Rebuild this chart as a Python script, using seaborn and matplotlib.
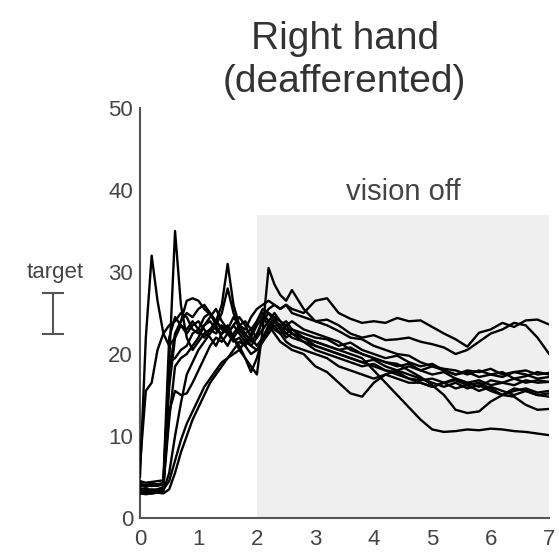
import numpy as np
import pandas as pd
import matplotlib
matplotlib.use("Agg")
import matplotlib.pyplot as plt
import seaborn as sns

# time grid (s)
t = [0.0, 0.1, 0.2, 0.3, 0.4, 0.5, 0.6, 0.7, 0.8, 0.9,
     1.0, 1.1, 1.2, 1.3, 1.4, 1.5, 1.6, 1.7, 1.8, 1.9,
     2.0, 2.1, 2.2, 2.3, 2.4, 2.5, 2.6,
     2.8, 3.0, 3.2, 3.4, 3.6, 3.8, 4.0, 4.2, 4.4, 4.6,
     4.8, 5.0, 5.2, 5.4, 5.6, 5.8, 6.0, 6.2, 6.4, 6.6, 6.8, 7.0]

trace01 = [5.0, 22.0, 32.0, 26.5, 22.5, 21.0, 22.0, 23.5, 23.0, 24.0,
           23.0, 22.0, 23.0, 24.0, 23.2, 22.5, 21.5, 22.0, 21.0, 22.5,
           24.0, 25.5, 25.0, 24.0, 23.5, 24.0, 23.0,
           22.5, 22.0, 21.8, 21.0, 21.4, 20.5, 20.0, 19.5, 19.8, 19.0,
           18.5, 18.8, 18.0, 17.5, 17.8, 17.2, 17.5, 17.8, 17.0, 17.3, 17.8, 17.5]
trace02 = [6.5, 15.5, 16.5, 20.5, 22.5, 23.5, 24.0, 25.0, 24.5, 23.0,
           22.5, 23.5, 24.0, 23.0, 22.5, 23.5, 22.0, 21.0, 19.5, 17.8,
           19.5, 22.0, 23.5, 24.5, 24.0, 23.0, 22.5,
           22.0, 21.5, 21.0, 20.5, 20.8, 20.0, 19.5, 19.0, 18.5, 18.8,
           18.0, 17.5, 17.8, 17.0, 16.5, 16.8, 16.2, 16.5, 17.0, 16.5, 16.8, 16.6]
trace03 = [4.0, 3.8, 4.0, 3.9, 4.2, 19.0, 35.0, 26.0, 22.0, 20.5,
           21.5, 22.5, 23.0, 22.5, 23.5, 22.8, 22.0, 23.0, 22.5, 21.5,
           22.5, 24.0, 25.0, 24.5, 23.0, 22.0, 22.5,
           21.5, 20.5, 20.0, 19.5, 19.0, 18.5, 18.8, 18.0, 17.5, 17.0,
           16.5, 16.0, 16.5, 15.8, 16.2, 15.5, 16.0, 15.5, 15.0, 15.5, 15.0, 15.2]
trace04 = [3.5, 3.3, 3.5, 3.4, 3.6, 16.0, 22.0, 24.0, 26.5, 26.8,
           26.5, 25.5, 24.8, 24.0, 26.0, 31.0, 26.0, 23.5, 23.0, 24.5,
           25.5, 26.0, 26.5, 26.0, 25.5, 26.0, 25.5,
           25.0, 26.5, 26.8, 25.0, 24.3, 23.8, 24.0, 23.8, 24.4, 24.0,
           24.1, 23.3, 22.5, 21.8, 20.9, 22.6, 23.0, 23.8, 23.3, 24.1, 24.2, 23.6]
trace05 = [3.0, 3.2, 3.0, 3.1, 3.3, 19.0, 19.5, 20.5, 21.0, 22.5,
           23.0, 24.5, 25.0, 23.5, 25.0, 28.0, 25.0, 23.0, 22.0, 21.0,
           22.0, 24.5, 25.5, 26.0, 25.5, 26.0, 25.0,
           24.5, 24.0, 24.2, 23.5, 22.5, 22.0, 22.3, 21.7, 21.8, 22.0,
           21.5, 21.2, 20.8, 20.0, 20.5, 21.5, 22.5, 23.0, 23.8, 23.5, 22.0, 20.0]
trace06 = [4.5, 4.3, 4.4, 4.5, 4.6, 22.0, 24.5, 23.5, 22.5, 23.5,
           24.0, 23.0, 22.0, 21.0, 22.5, 23.0, 22.0, 20.5, 19.5, 18.5,
           17.5, 23.0, 30.5, 28.5, 27.2, 26.5, 27.8,
           25.5, 24.0, 23.5, 22.8, 22.0, 21.8, 21.0, 20.5, 20.0, 19.8,
           19.0, 18.5, 18.2, 18.0, 17.5, 18.0, 17.5, 17.2, 17.8, 17.5, 17.0, 17.2]
trace07 = [3.5, 3.6, 3.4, 3.5, 3.8, 12.0, 18.5, 19.5, 20.0, 21.0,
           22.0, 23.5, 24.5, 25.5, 24.0, 23.0, 24.5, 23.5, 22.5, 23.0,
           24.0, 25.0, 24.0, 23.0, 22.5, 23.5, 22.5,
           22.0, 21.5, 21.0, 20.5, 20.0, 19.5, 18.0, 16.5, 15.0, 13.5,
           12.0, 10.8, 10.5, 10.6, 10.8, 10.7, 10.9, 10.8, 10.6, 10.5, 10.3, 10.1]
trace08 = [3.8, 4.0, 3.9, 4.0, 4.1, 13.0, 15.5, 15.0, 15.2, 16.5,
           18.0, 19.5, 21.0, 22.0, 21.5, 22.5, 23.5, 22.5, 21.5, 22.0,
           23.5, 24.5, 23.5, 22.5, 21.5, 21.0, 20.5,
           20.0, 18.5, 17.8, 16.5, 15.2, 14.8, 16.5, 17.5, 18.0, 18.5,
           18.0, 18.5, 18.0, 17.5, 18.0, 17.8, 18.2, 17.5, 17.8, 18.0, 17.5, 17.7]
trace09 = [3.2, 3.0, 3.2, 3.1, 3.3, 5.5, 10.0, 14.0, 17.5, 19.0,
           20.5, 21.5, 22.5, 23.5, 22.0, 21.0, 22.5, 23.5, 24.0, 23.0,
           22.0, 23.0, 24.0, 25.0, 24.0, 23.5, 24.0,
           23.0, 22.5, 22.0, 21.5, 20.5, 20.0, 19.5, 19.0, 18.8, 18.0,
           17.2, 16.2, 15.0, 13.2, 12.8, 13.0, 14.2, 15.0, 15.8, 15.5, 15.0, 14.8]
trace10 = [4.2, 4.0, 4.2, 4.1, 4.3, 18.0, 22.5, 24.0, 25.0, 24.5,
           25.5, 26.0, 25.0, 24.0, 23.0, 22.5, 23.5, 24.5, 23.5, 22.0,
           21.0, 22.0, 23.0, 24.0, 23.0, 22.5, 23.0,
           22.0, 21.0, 20.5, 20.0, 19.5, 19.0, 18.5, 18.0, 17.8, 17.0,
           16.8, 17.0, 16.5, 16.8, 16.2, 16.5, 15.8, 15.0, 14.8, 13.8, 13.2, 13.3]
trace11 = [3.4, 3.5, 3.3, 3.4, 3.5, 4.5, 7.0, 9.5, 11.5, 13.0,
           14.5, 16.0, 17.0, 18.0, 19.0, 19.5, 20.5, 21.5, 21.0, 20.0,
           20.5, 21.5, 22.5, 23.5, 22.5, 21.5, 21.0,
           20.5, 20.0, 19.5, 18.5, 18.0, 17.5, 17.0, 17.5, 17.0, 16.5,
           16.5, 16.0, 16.5, 17.0, 16.5, 16.0, 16.8, 16.5, 16.2, 16.8, 16.5, 16.6]
trace12 = [3.0, 2.9, 3.0, 3.1, 3.0, 3.5, 5.5, 8.0, 10.0, 12.0,
           13.5, 15.0, 16.5, 17.5, 18.5, 19.5, 20.0, 20.5, 21.5, 21.0,
           20.5, 21.5, 23.0, 24.0, 23.5, 22.5, 22.0,
           21.5, 21.0, 20.5, 20.0, 19.5, 19.0, 19.3, 18.5, 18.0, 17.5,
           17.0, 16.5, 16.0, 16.5, 15.8, 16.2, 15.5, 15.0, 15.5, 15.8, 15.3, 15.5]

traces = [trace01, trace02, trace03, trace04, trace05, trace06,
          trace07, trace08, trace09, trace10, trace11, trace12]

x_ticks = [0, 1, 2, 3, 4, 5, 6, 7]
y_ticks = [0, 10, 20, 30, 40, 50]
target_low, target_high = 22.4, 27.4
vision_off_start, vision_off_end, vision_off_top = 2.0, 7.0, 37.0

rows = []
for i, tr in enumerate(traces):
    for ti, v in zip(t, tr):
        rows.append({"trace": i, "time": ti, "value": v})
df = pd.DataFrame(rows)

sns.set_theme(style="white")
plt.rcParams["font.family"] = ["Liberation Sans", "DejaVu Sans"]

fig = plt.figure(figsize=(5.59, 5.57), dpi=100)
ax = fig.add_axes([0.2504, 0.070, 0.732, 0.736])

ax.axvspan(vision_off_start, vision_off_end, ymin=0, ymax=vision_off_top / 50,
           color="#efefef", lw=0, zorder=0)

sns.lineplot(data=df, x="time", y="value", units="trace", estimator=None,
             color="black", lw=1.7, ax=ax, legend=False, zorder=3)

ax.set_xlim(0, 7)
ax.set_ylim(0, 50)
ax.set_xticks(x_ticks)
ax.set_yticks(y_ticks)
ax.set_yticks([5, 15, 25, 35, 45], minor=True)
ax.set_xlabel("")
ax.set_ylabel("")
for s in ["top", "right"]:
    ax.spines[s].set_visible(False)
for s in ["left", "bottom"]:
    ax.spines[s].set_color("#555555")
    ax.spines[s].set_linewidth(1.5)
ax.tick_params(axis="both", which="both", direction="in", length=4, width=1.2,
               color="#555555", labelcolor="#444444", labelsize=16)
ax.tick_params(axis="y", pad=5)
ax.tick_params(axis="x", pad=8)

ax.text(4.5, 38.8, "vision off", ha="center", va="baseline", fontsize=21,
        color="#444444")

ax.text(0.5, 1.02, "Right hand\n(deafferented)", transform=ax.transAxes,
        ha="center", va="bottom", fontsize=28, color="#333333", linespacing=1.25)

ax.text(-1.455, 30.0, "target", ha="center", va="center", fontsize=16,
        color="#444444", clip_on=False)
eb = ax.errorbar([-1.49], [(target_low + target_high) / 2],
                 yerr=[[(target_high - target_low) / 2], [(target_high - target_low) / 2]],
                 fmt="none", ecolor="#555555", elinewidth=1.5, capsize=8, capthick=1.5)
for art in eb.lines[1] + eb.lines[2]:
    art.set_clip_on(False)

fig.savefig("out.png", dpi=100)
